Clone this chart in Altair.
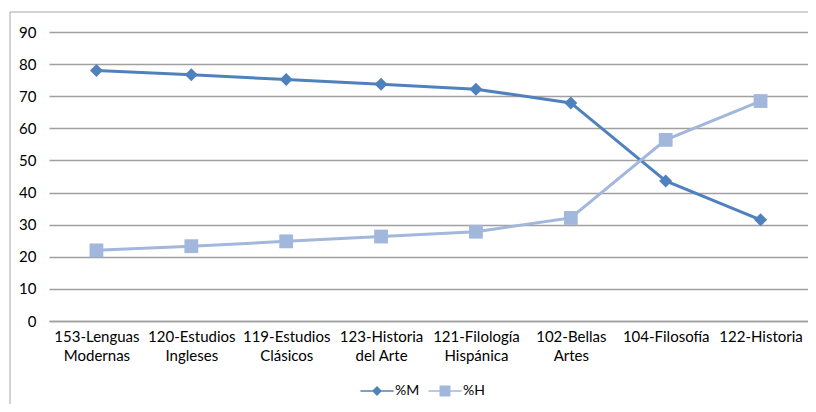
import altair as alt
import pandas as pd

categories = [
    "153-Lenguas Modernas",
    "120-Estudios Ingleses",
    "119-Estudios Clásicos",
    "123-Historia del Arte",
    "121-Filología Hispánica",
    "102-Bellas Artes",
    "104-Filosofía",
    "122-Historia",
]
pct_m = [78.0, 76.7, 75.2, 73.7, 72.2, 67.9, 43.6, 31.5]
pct_h = [22.0, 23.3, 24.8, 26.3, 27.8, 32.1, 56.4, 68.5]
series_names = ["%M", "%H"]
y_ticks = [0, 10, 20, 30, 40, 50, 60, 70, 80, 90]

rows = []
for c, m, h in zip(categories, pct_m, pct_h):
    rows.append({"cat": c, "serie": "%M", "valor": m})
    rows.append({"cat": c, "serie": "%H", "valor": h})
df = pd.DataFrame(rows)

FONT = "Lato"
C_M = "#4F81BD"
C_H = "#A2B7DC"

x_enc = alt.X(
    "cat:N",
    sort=categories,
    title=None,
    axis=alt.Axis(
        labelAngle=0,
        labelFontSize=15,
        labelFont=FONT,
        labelColor="#000000",
        labelPadding=8,
        labelLineHeight=19,
        labelBaseline="top",
        ticks=False,
        domainColor="#A0A0A0",
        domainWidth=1.5,
        grid=False,
        labelExpr="indexof(datum.label, ' ') > 0 ? [slice(datum.label, 0, indexof(datum.label, ' ')), slice(datum.label, indexof(datum.label, ' ') + 1)] : datum.label",
    ),
)
y_enc = alt.Y(
    "valor:Q",
    title=None,
    scale=alt.Scale(domain=[0, 90], nice=False, zero=True),
    axis=alt.Axis(
        values=y_ticks,
        labelFontSize=15,
        labelFont=FONT,
        labelColor="#000000",
        labelPadding=13,
        ticks=False,
        domain=False,
        gridColor="#A0A0A0",
        gridWidth=1.5,
    ),
)
color_enc = alt.Color(
    "serie:N",
    scale=alt.Scale(domain=series_names, range=[C_M, C_H]),
    legend=None,
)

lines = alt.Chart(df).mark_line(strokeWidth=3).encode(
    x=x_enc, y=y_enc, color=color_enc, detail="serie:N"
)

points = alt.Chart(df).mark_point(filled=True, opacity=1, strokeWidth=0).encode(
    x=x_enc,
    y=y_enc,
    color=color_enc,
    shape=alt.Shape(
        "serie:N",
        scale=alt.Scale(domain=series_names, range=["diamond", "square"]),
        legend=None,
    ),
    size=alt.Size(
        "serie:N",
        scale=alt.Scale(domain=series_names, range=[170, 190]),
        legend=None,
    ),
)

path_m = "M-1,-0.05 L1,-0.05 L1,0.05 L-1,0.05 Z M-0.3,0 L0,-0.3 L0.3,0 L0,0.3 Z"
path_h = "M-1,-0.05 L1,-0.05 L1,0.05 L-1,0.05 Z M-0.33,-0.33 L0.33,-0.33 L0.33,0.33 L-0.33,0.33 Z"


def legend_props(path, lx, fillc):
    return dict(
        title=None,
        orient="none",
        direction="horizontal",
        legendX=lx,
        legendY=342,
        labelFont=FONT,
        labelFontSize=14,
        labelColor="#000000",
        labelOffset=1,
        symbolType=path,
        symbolSize=1100,
        symbolOpacity=1,
        symbolStrokeWidth=0,
        symbolFillColor=fillc,
        symbolStrokeColor=fillc,
    )


def legend_layer(name, path, lx, col):
    return alt.Chart(df[df["serie"] == name]).mark_point(
        filled=True, opacity=0, strokeWidth=0
    ).encode(
        x=x_enc,
        y=y_enc,
        fill=alt.Fill(
            "serie:N",
            scale=alt.Scale(domain=[name], range=[col]),
            legend=alt.Legend(**legend_props(path, lx, col)),
        ),
    )


legend_m = legend_layer("%M", path_m, 311, C_M)
legend_h = legend_layer("%H", path_h, 379, C_H)

frame = alt.Chart(pd.DataFrame({"k": [0]})).mark_rect(
    fill=None, stroke="#A6A6A6", strokeWidth=1
).encode(
    x=alt.value(-39), x2=alt.value(800), y=alt.value(-20), y2=alt.value(400)
)

chart = (
    alt.layer(frame, lines, points, legend_m, legend_h)
    .resolve_scale(fill="independent")
    .resolve_legend(fill="independent")
    .properties(
        width=759,
        height=289,
        autosize=alt.AutoSizeParams(type="none"),
        padding={"left": 41, "top": 24, "right": 0, "bottom": 83},
        background="white",
    )
    .configure_view(stroke=None)
)

chart.save("out.html", embed_options={"renderer": "svg", "actions": False})
